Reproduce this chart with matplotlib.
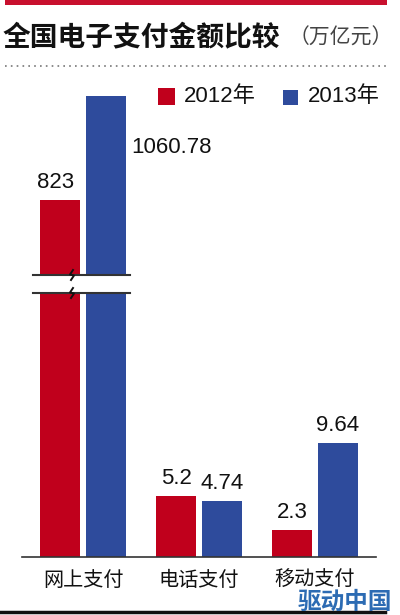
import matplotlib
matplotlib.use("Agg")
from matplotlib import pyplot as plt
from matplotlib.lines import Line2D
from matplotlib.patches import Rectangle
import numpy as np

plt.rcParams['font.family'] = ['Liberation Sans', 'Noto Sans CJK SC', 'DejaVu Sans']

# data (万亿元)
categories = ["网上支付", "电话支付", "移动支付"]
years = ["2012年", "2013年"]
values_2012 = [823, 5.2, 2.3]
values_2013 = [1060.78, 4.74, 9.64]
labels_2012 = ["823", "5.2", "2.3"]
labels_2013 = ["1060.78", "4.74", "9.64"]

red = "#C0001C"
blue = "#2E4B9C"

W, H = 400, 615
fig = plt.figure(figsize=(W / 100, H / 100), dpi=100)


def fx(px):
    return px / W


def fy(py):
    return 1 - py / H


# broken axis: lower part (small values) and upper part (large values)
ax_low = fig.add_axes([fx(22), fy(557), fx(376) - fx(22), fy(293) - fy(557)])
ax_high = fig.add_axes([fx(22), fy(275), fx(376) - fx(22), fy(80) - fy(275)])

x = np.arange(len(categories))
width = 0.345
offset = 0.198

for ax in (ax_low, ax_high):
    ax.bar(x - offset, values_2012, width, color=red)
    ax.bar(x + offset, values_2013, width, color=blue)
    ax.set_xlim(-0.526, 2.526)
    for s in ax.spines.values():
        s.set_visible(False)
    ax.set_xticks([])
    ax.set_yticks([])
    ax.patch.set_alpha(0)

ax_low.set_ylim(0, 22.4)
ax_high.set_ylim(651.5, 1097.3)

ax_low.axhline(0, color="#333333", lw=1.2, clip_on=False)

# value labels
num_font = dict(fontsize=16, color="#111111")
ax_high.annotate(labels_2012[0], (x[0] - offset, values_2012[0]), xytext=(-3, 5),
                 textcoords="offset points", ha="center", va="bottom", **num_font)
ax_high.annotate(labels_2013[0], (x[0] + offset + width / 2, values_2013[0]), xytext=(4, -37),
                 textcoords="offset points", ha="left", va="center", **num_font)
for i in range(1, len(categories)):
    ax_low.annotate(labels_2012[i], (x[i] - offset, values_2012[i]), xytext=(0, 5),
                    textcoords="offset points", ha="center", va="bottom", **num_font)
    ax_low.annotate(labels_2013[i], (x[i] + offset, values_2013[i]), xytext=(0, 5),
                    textcoords="offset points", ha="center", va="bottom", **num_font)

# category labels
for i, c in enumerate(categories):
    ax_low.annotate(c, (x[i], 0), xytext=(0, -17), textcoords="offset points",
                    ha="center", va="center", fontsize=14.5, color="#111111")

# break marks
for py in (275, 293):
    fig.add_artist(Line2D([fx(33), fx(130)], [fy(py), fy(py)], color="#333333", lw=1.5))
    zx = [73, 70, 74, 71]
    zy = [py - 5, py - 0.5, py + 0.5, py + 5]
    fig.add_artist(Line2D([fx(v) for v in zx], [fy(v) for v in zy], color="#111111", lw=1.4))

# top red strip, title, dotted rule
fig.add_artist(Rectangle((fx(5), fy(5)), fx(387) - fx(5), fy(0) - fy(5), color="#C8102E", lw=0))
fig.text(fx(3), fy(38), "全国电子支付金额比较", fontsize=20, fontweight="black",
         family=["Noto Sans CJK SC"], ha="left", va="center", color="#111111")
fig.text(fx(289), fy(38), "（万亿元）", fontsize=15, family=["Noto Sans CJK SC"],
         ha="left", va="center", color="#444444")
fig.add_artist(Line2D([fx(5), fx(387)], [fy(66), fy(66)], color="#777777", lw=1.2,
                      linestyle=(0, (1, 2.5))))

# legend
fig.add_artist(Rectangle((fx(158), fy(105)), fx(17), fy(0) - fy(17), color=red, lw=0))
fig.text(fx(184), fy(97), years[0], fontsize=16, ha="left", va="center", color="#111111")
fig.add_artist(Rectangle((fx(283), fy(105)), fx(15), fy(0) - fy(15), color=blue, lw=0))
fig.text(fx(308), fy(97), years[1], fontsize=16, ha="left", va="center", color="#111111")

# bottom rule and watermark
fig.add_artist(Line2D([fx(0), fx(385)], [fy(612), fy(612)], color="#111111", lw=2.5))
fig.text(fx(392), fy(602), "驱动中国", fontsize=17, fontweight="bold",
         family=["Noto Sans CJK SC"], ha="right", va="center", color="#2C6BB3")

fig.savefig("out.png", dpi=100)
